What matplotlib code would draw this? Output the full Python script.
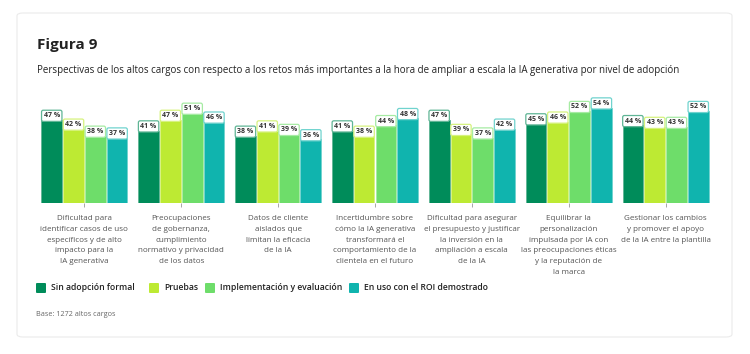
import matplotlib
matplotlib.use("Agg")
import matplotlib.pyplot as plt
from matplotlib.patches import FancyBboxPatch
import numpy as np

plt.rcParams['font.family'] = ['Open Sans', 'DejaVu Sans']

categories = [
    "Dificultad para\nidentificar casos de uso\nespecíficos y de alto\nimpacto para la\nIA generativa",
    "Preocupaciones\nde gobernanza,\ncumplimiento\nnormativo y privacidad\nde los datos",
    "Datos de cliente\naislados que\nlimitan la eficacia\nde la IA",
    "Incertidumbre sobre\ncómo la IA generativa\ntransformará el\ncomportamiento de la\nclientela en el futuro",
    "Dificultad para asegurar\nel presupuesto y justificar\nla inversión en la\nampliación a escala\nde la IA",
    "Equilibrar la\npersonalización\nimpulsada por IA con\nlas preocupaciones éticas\ny la reputación de\nla marca",
    "Gestionar los cambios\ny promover el apoyo\nde la IA entre la plantilla",
]
series_names = ["Sin adopción formal", "Pruebas", "Implementación y evaluación", "En uso con el ROI demostrado"]
sin_adopcion = [47, 41, 38, 41, 47, 45, 44]
pruebas = [42, 47, 41, 38, 39, 46, 43]
implementacion = [38, 51, 39, 44, 37, 52, 43]
en_uso = [37, 46, 36, 48, 42, 54, 52]

colors = ["#008C5A", "#BDEA33", "#6EDD6A", "#10B4AE"]
edge_colors = ["#5FB595", "#D6F27E", "#A6EBA3", "#70D3CE"]

fig = plt.figure(figsize=(7.5, 3.54), dpi=100)

# card
card = FancyBboxPatch((17/750, 1-337/354), (732-17)/750, (337-13)/354,
                      boxstyle="round,pad=0,rounding_size=0.008",
                      transform=fig.transFigure, facecolor="white",
                      edgecolor="#EBEBEB", linewidth=0.8, zorder=-5)
fig.patches.append(card)

fig.text(37/750, 1-45/354, "Figura 9", fontsize=11, fontweight="bold",
         color="#222222", va="center", ha="left")
fig.text(37/750, 1-70/354,
         "Perspectivas de los altos cargos con respecto a los retos más importantes a la hora de ampliar a escala la IA generativa por nivel de adopción",
         fontsize=7.0, color="#222222", va="center", ha="left")

ax = fig.add_axes([36/750, 1-203/354, (714-36)/750, 106/354])
ax.set_zorder(2)
ax.set_xlim(-0.5, 6.5)
ax.set_ylim(0, 60)
ax.patch.set_alpha(0)
for s in ax.spines.values():
    s.set_visible(False)
ax.set_yticks([])

data = [sin_adopcion, pruebas, implementacion, en_uso]
x = np.arange(len(categories))
w = 0.225
for i, vals in enumerate(data):
    xs = x + (i - 1.5) * w
    ax.bar(xs, vals, width=w * 0.95, color=colors[i], edgecolor=edge_colors[i],
           linewidth=0.6, zorder=2)
    for xi, v in zip(xs, vals):
        ax.annotate(f"{v} %", (xi, v), xytext=(0, 3.0), textcoords="offset points",
                    ha="center", va="center", fontsize=5.0, fontweight="bold",
                    color="#333333", zorder=4,
                    bbox=dict(boxstyle="round,pad=0.3,rounding_size=0.25",
                              facecolor="white", edgecolor=edge_colors[i], linewidth=0.9))

ax.set_xticks(x)
ax.set_xticklabels(categories, fontsize=5.8, color="#555555", linespacing=1.72,
                   va="top")
ax.tick_params(axis="x", length=3, width=0.6, color="#999999", pad=6.0)

# legend
lx = [36, 149, 205, 349]
for i, name in enumerate(series_names):
    fig.patches.append(FancyBboxPatch((lx[i]/750, 1-293/354), 10/750, 10/354,
                                      boxstyle="round,pad=0,rounding_size=0.002",
                                      transform=fig.transFigure,
                                      facecolor=colors[i], edgecolor="none"))
    fig.text((lx[i] + 15)/750, 1-288/354, name, fontsize=6.2, fontweight="semibold",
             color="#222222", va="center", ha="left")

fig.text(36/750, 1-315/354, "Base: 1272 altos cargos", fontsize=5.2,
         color="#666666", va="center", ha="left")

fig.savefig("out.png", dpi=100)
